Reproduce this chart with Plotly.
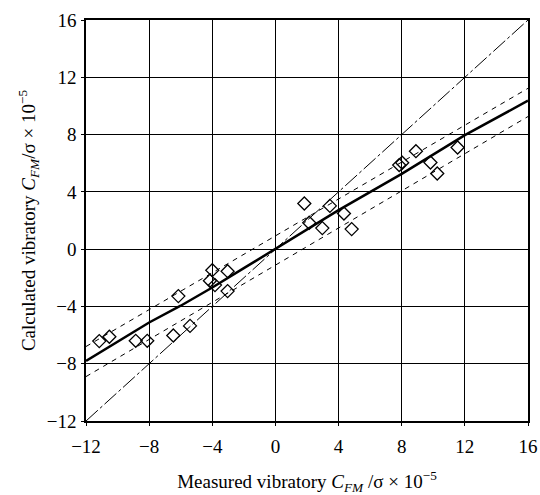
import plotly.graph_objects as go

# measured (x) vs calculated (y) data points
meas_x = [-11.16, -10.52, -8.85, -8.12, -6.47, -5.41, -6.15, -4.0, -3.03, -4.15, -3.83, -3.03,
          1.83, 2.14, 2.97, 3.45, 4.34, 4.83, 7.84, 8.03, 8.90, 9.82, 10.25, 11.54]
calc_y = [-6.42, -6.12, -6.40, -6.40, -6.03, -5.36, -3.28, -1.47, -1.54, -2.21, -2.51, -2.93,
          3.19, 1.84, 1.47, 3.02, 2.49, 1.40, 5.87, 6.03, 6.84, 6.05, 5.28, 7.10]

# fitted curve
fit_x = [-12, -8, -6, -4, -2, 0, 4, 8, 12, 16]
fit_y = [-7.8, -5.12, -3.95, -2.68, -1.33, 0, 2.72, 5.26, 7.96, 10.37]

# confidence band (dashed)
upper_x = [-12, 16]
upper_y = [-6.8, 11.23]
lower_x = [-12, 16]
lower_y = [-8.9, 9.26]

# line of equality
diag_x = [-12, 16]
diag_y = [-12, 16]

tick_vals = [-12, -8, -4, 0, 4, 8, 12, 16]
tick_text = ["\u221212", "\u22128", "\u22124", "0", "4", "8", "12", "16"]

FONT = "Liberation Serif"

fig = go.Figure()
fig.add_trace(go.Scatter(x=diag_x, y=diag_y, mode="lines",
                         line=dict(color="black", width=1, dash="16px,3px,3px,3px")))
fig.add_trace(go.Scatter(x=upper_x, y=upper_y, mode="lines",
                         line=dict(color="black", width=1, dash="5px,5px")))
fig.add_trace(go.Scatter(x=lower_x, y=lower_y, mode="lines",
                         line=dict(color="black", width=1, dash="5px,5px")))
fig.add_trace(go.Scatter(x=fit_x, y=fit_y, mode="lines",
                         line=dict(color="black", width=2.5)))
fig.add_trace(go.Scatter(x=meas_x, y=calc_y, mode="markers",
                         marker=dict(symbol="diamond-open", size=10, color="black",
                                     line=dict(width=1.3, color="black"))))

axis_common = dict(
    tickvals=tick_vals, ticktext=tick_text,
    showgrid=True, gridcolor="black", gridwidth=1,
    zeroline=False, showline=True, linecolor="black", linewidth=1.5, mirror=True,
    ticks="outside", ticklen=3, tickcolor="black",
    tickfont=dict(family=FONT, size=19, color="black"),
    range=[-12, 16], automargin=False,
)

fig.update_layout(
    width=540, height=495,
    margin=dict(l=86, r=12, t=20, b=74),
    paper_bgcolor="white", plot_bgcolor="white",
    showlegend=False,
    font=dict(family=FONT, color="black"),
    xaxis=dict(**axis_common, ticklabelstandoff=4,
               title=dict(text="Measured vibratory <i>C</i><sub><i>FM</i></sub> /σ × 10<sup>\u22125</sup>",
                          font=dict(family=FONT, size=19), standoff=20)),
    yaxis=dict(**axis_common, ticklabelstandoff=1,
               title=dict(text="Calculated vibratory <i>C</i><sub><i>FM</i></sub>/σ × 10<sup>\u22125</sup>",
                          font=dict(family=FONT, size=19), standoff=6)),
)

fig.write_html("out.html")
